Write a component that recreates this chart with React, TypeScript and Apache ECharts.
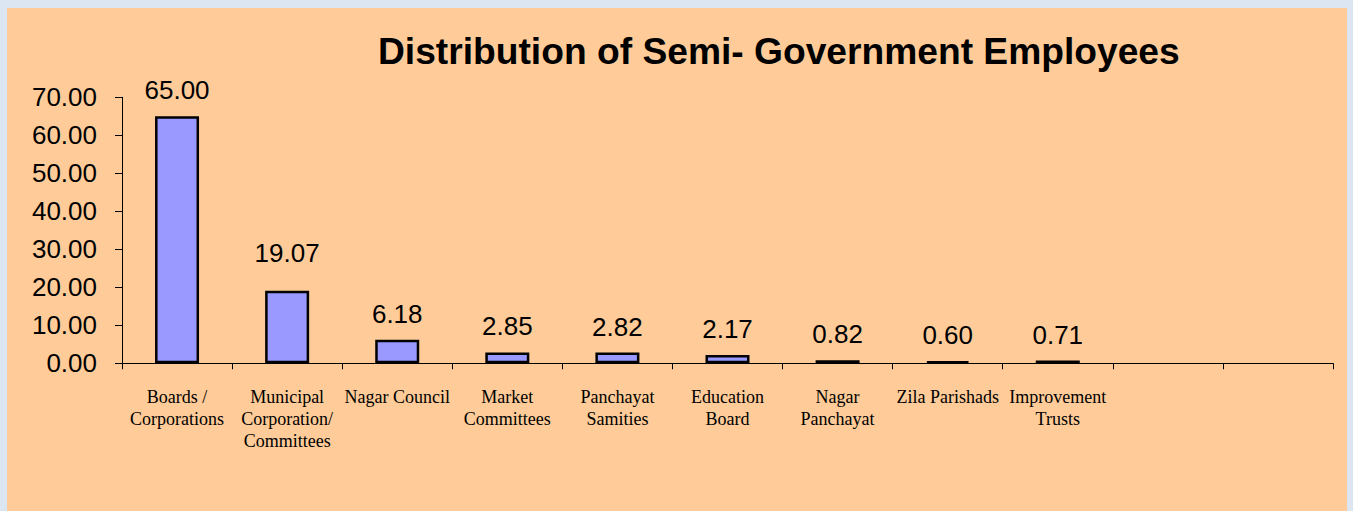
import React, { useEffect, useRef } from "react";
import * as echarts from "echarts";

const titleText = "Distribution of Semi- Government Employees";
const categories = [
  "Boards /\nCorporations",
  "Municipal\nCorporation/\nCommittees",
  "Nagar Council",
  "Market\nCommittees",
  "Panchayat\nSamities",
  "Education\nBoard",
  "Nagar\nPanchayat",
  "Zila Parishads",
  "Improvement\nTrusts",
  "",
  "",
];
const values = [65.0, 19.07, 6.18, 2.85, 2.82, 2.17, 0.82, 0.6, 0.71];
const labelDistances = [13, 25, 13, 13, 13, 13, 13, 13, 13];

export default function App() {
  const ref = useRef<HTMLDivElement>(null);
  useEffect(() => {
    document.body.style.margin = "0";
    const chart = echarts.init(ref.current!, null, { renderer: "svg" });
    chart.setOption({
      animation: false,
      backgroundColor: "#DCE6F2",
      graphic: [
        {
          type: "rect",
          z: -10,
          shape: { x: 7, y: 8, width: 1340, height: 510 },
          style: { fill: "#FFCC99" },
        },
        {
          type: "text",
          left: 378,
          top: 32,
          style: {
            text: titleText,
            font: "bold 37.2px 'Liberation Sans', Arial, sans-serif",
            fill: "#000",
          },
        },
      ],
      grid: { left: 122, right: 20, top: 97.3, bottom: 147.7, containLabel: false },
      xAxis: {
        type: "category",
        data: categories,
        axisLine: { lineStyle: { color: "#000", width: 1 } },
        axisTick: { show: true, length: 6, lineStyle: { color: "#000" } },
        axisLabel: {
          interval: 0,
          margin: 23,
          color: "#000",
          fontFamily: "'Liberation Serif', 'Times New Roman', serif",
          fontSize: 18,
          lineHeight: 21.7,
        },
      },
      yAxis: {
        type: "value",
        min: 0,
        max: 70,
        interval: 10,
        splitLine: { show: false },
        axisLine: { show: true, lineStyle: { color: "#000", width: 1 } },
        axisTick: { show: true, length: 7, lineStyle: { color: "#000" } },
        axisLabel: {
          margin: 25,
          color: "#000",
          fontFamily: "'Liberation Sans', Arial, sans-serif",
          fontSize: 26,
          formatter: (v: number) => v.toFixed(2),
        },
      },
      series: [
        {
          type: "bar",
          barWidth: 44,
          data: values.map((v, i) => ({
            value: v,
            label: { distance: labelDistances[i] },
          })),
          itemStyle: { color: "#9999FF", borderColor: "#000", borderWidth: 2.5 },
          label: {
            show: true,
            position: "top",
            color: "#000",
            fontFamily: "'Liberation Sans', Arial, sans-serif",
            fontSize: 26,
            formatter: (p: any) => Number(p.value).toFixed(2),
          },
        },
      ],
    });
    return () => chart.dispose();
  }, []);
  return (
    <div
      ref={ref}
      style={{ position: "absolute", left: 0, top: 0, width: 1353, height: 511 }}
    />
  );
}
